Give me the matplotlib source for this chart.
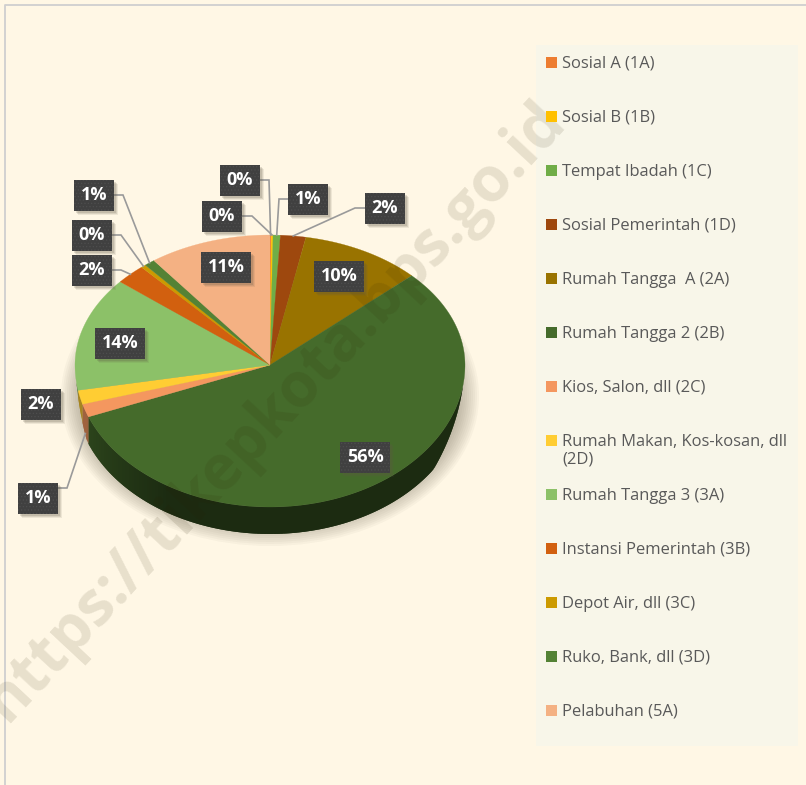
import numpy as np
from matplotlib import pyplot as plt
from matplotlib.colors import to_rgb
from matplotlib.patches import Polygon, Rectangle, Ellipse

plt.rcParams['font.family'] = ['Open Sans', 'DejaVu Sans']
plt.rcParams['hatch.linewidth'] = 0.5

categories = ['Sosial A (1A)', 'Sosial B (1B)', 'Tempat Ibadah (1C)', 'Sosial Pemerintah (1D)',
              'Rumah Tangga  A (2A)', 'Rumah Tangga 2 (2B)', 'Kios, Salon, dll (2C)',
              'Rumah Makan, Kos-kosan, dll\n(2D)', 'Rumah Tangga 3 (3A)', 'Instansi Pemerintah (3B)',
              'Depot Air, dll (3C)', 'Ruko, Bank, dll (3D)', 'Pelabuhan (5A)']
values = [0.1, 0.15, 0.6, 2.1, 10, 56.1, 1.5, 1.6, 13.9, 2.5, 0.4, 0.9, 10.15]
percentLabels = ['0%', '0%', '1%', '2%', '10%', '56%', '1%', '2%', '14%', '2%', '0%', '1%', '11%']
colors = ['#ED7D31', '#FFC000', '#70AD47', '#9E480E', '#997300', '#456B2B', '#F4975F',
          '#FFCD33', '#8CC168', '#D2600F', '#CC9A00', '#548235', '#F4B183']

# label box centres, and the elbow of the leader (None = no leader)
labelBoxes = [(240, 180), (222, 216), (308, 199), (385, 208), (339, 276), (365, 457), (38, 498),
              (41, 404), (120, 343), (92, 270), (92, 235), (94, 195), (226, 267)]
elbows = [(269, 180), (252, 216), (279, 199), (355, 208), None, None, (67, 488),
          None, None, (121, 270), (121, 235), (123, 195), None]

cx, cy = 270, 365
rx, ryBack, ryFront = 195, 130, 142
depth = 27
bg = '#FFF7E5'


def edge(angle):
    # point on the pie rim, angle in degrees clockwise from the top
    a = np.radians(angle)
    ry = np.where(np.cos(a) > 0, ryBack, ryFront)
    return cx + rx * np.sin(a), cy - ry * np.cos(a)


def sideDepth(angle):
    # the side thins out to nothing towards both ends of the visible front
    return depth * np.clip((angle - 98) / 25, 0, 1) * np.clip((263 - angle) / 13, 0, 1)


def shade(color, f):
    return tuple(c * f for c in to_rgb(color))


def drawShadow(ax):
    for i in range(16):
        ax.add_patch(Ellipse((270, 396), 2 * (209 - i * 2), 2 * (150 - i * 2), color='#5f5845',
                             alpha=0.045, lw=0, zorder=1))


def drawPie(ax):
    bounds = np.concatenate(([0], np.cumsum(values))) / np.sum(values) * 360

    # side of the pie, each strip overlaps the next one so no seams show
    for i in range(len(values)):
        start, stop = max(bounds[i], 98), min(bounds[i + 1], 263)
        if stop <= start:
            continue
        steps = np.arange(start, stop, 1.0)
        for a in steps:
            angles = np.array([a, min(a + 2, stop)])
            x, y = edge(angles)
            d = sideDepth(angles)
            f = 0.40 + 0.25 * np.clip((a - 210) / 40, 0, 1)
            pts = [(x[0], y[0]), (x[1], y[1]), (x[1], y[1] + d[1]), (x[0], y[0] + d[0])]
            ax.add_patch(Polygon(pts, facecolor=shade(colors[i], f), lw=0, zorder=2))

    # top face
    for i in range(len(values)):
        n = max(int(bounds[i + 1] - bounds[i]) + 2, 3)
        x, y = edge(np.linspace(bounds[i], bounds[i + 1], n))
        pts = [(cx, cy)] + list(zip(x, y))
        ax.add_patch(Polygon(pts, facecolor=colors[i], edgecolor=colors[i], lw=0.2, zorder=3))

    return (bounds[:-1] + bounds[1:]) / 2


def drawLabels(ax, mids):
    for i in range(len(values)):
        bx, by = labelBoxes[i]
        w = 50 if len(percentLabels[i]) > 2 else 40
        h = 31
        if elbows[i] is not None:
            ex, ey = edge(mids[i])
            if i == 6:
                ey = ey + depth * 0.85
            ax.plot([bx, elbows[i][0], ex], [elbows[i][1], elbows[i][1], ey],
                    color='#9a9a9a', lw=1.2, zorder=5, solid_joinstyle='miter')
        for s, a in ((4, 0.10), (3, 0.14), (2, 0.18)):
            ax.add_patch(Rectangle((bx - w / 2 + s, by - h / 2 + s), w, h, color='#5f5845', alpha=a, lw=0, zorder=6))
        ax.add_patch(Rectangle((bx - w / 2, by - h / 2), w, h, facecolor='#404040', edgecolor='#4e4e4e',
                               hatch='.....', lw=0, zorder=7))
        ax.text(bx, by, percentLabels[i], color='white', fontsize=13, fontweight='bold',
                ha='center', va='center', zorder=8)


def drawLegend(ax):
    ax.add_patch(Rectangle((536, 45), 262, 701, color='#F8F6E9', lw=0, zorder=0.5))
    rows = 62 + 54 * np.arange(len(categories))
    for i in range(len(categories)):
        ax.add_patch(Rectangle((546, rows[i] - 5), 11, 11, color=colors[i], lw=0, zorder=10))
        y = rows[i] + 1.5
        if '\n' in categories[i]:
            y = rows[i] + 11
        ax.text(562, y, categories[i], color='#595959', fontsize=11.9, va='center', ha='left',
                linespacing=1.15, zorder=10)


def main():
    fig = plt.figure(figsize=(8.06, 7.85), dpi=100, facecolor=bg)
    ax = fig.add_axes([0, 0, 1, 1])
    ax.set_xlim(0, 806)
    ax.set_ylim(785, 0)
    ax.axis('off')

    ax.plot([4.5, 4.5, 806], [785, 4.5, 4.5], color='#cfcfcf', lw=1.3, zorder=0.2)

    drawLegend(ax)
    drawShadow(ax)
    mids = drawPie(ax)
    drawLabels(ax, mids)

    ax.text(274, 412, 'https://tikepkota.bps.go.id', rotation=47, rotation_mode='anchor',
            color='#2a2000', alpha=0.11, fontsize=44.5, fontweight='bold',
            ha='center', va='center', zorder=4, clip_on=True)

    fig.savefig('out.png', dpi=100, facecolor=bg)


if __name__ == "__main__":
    main()
